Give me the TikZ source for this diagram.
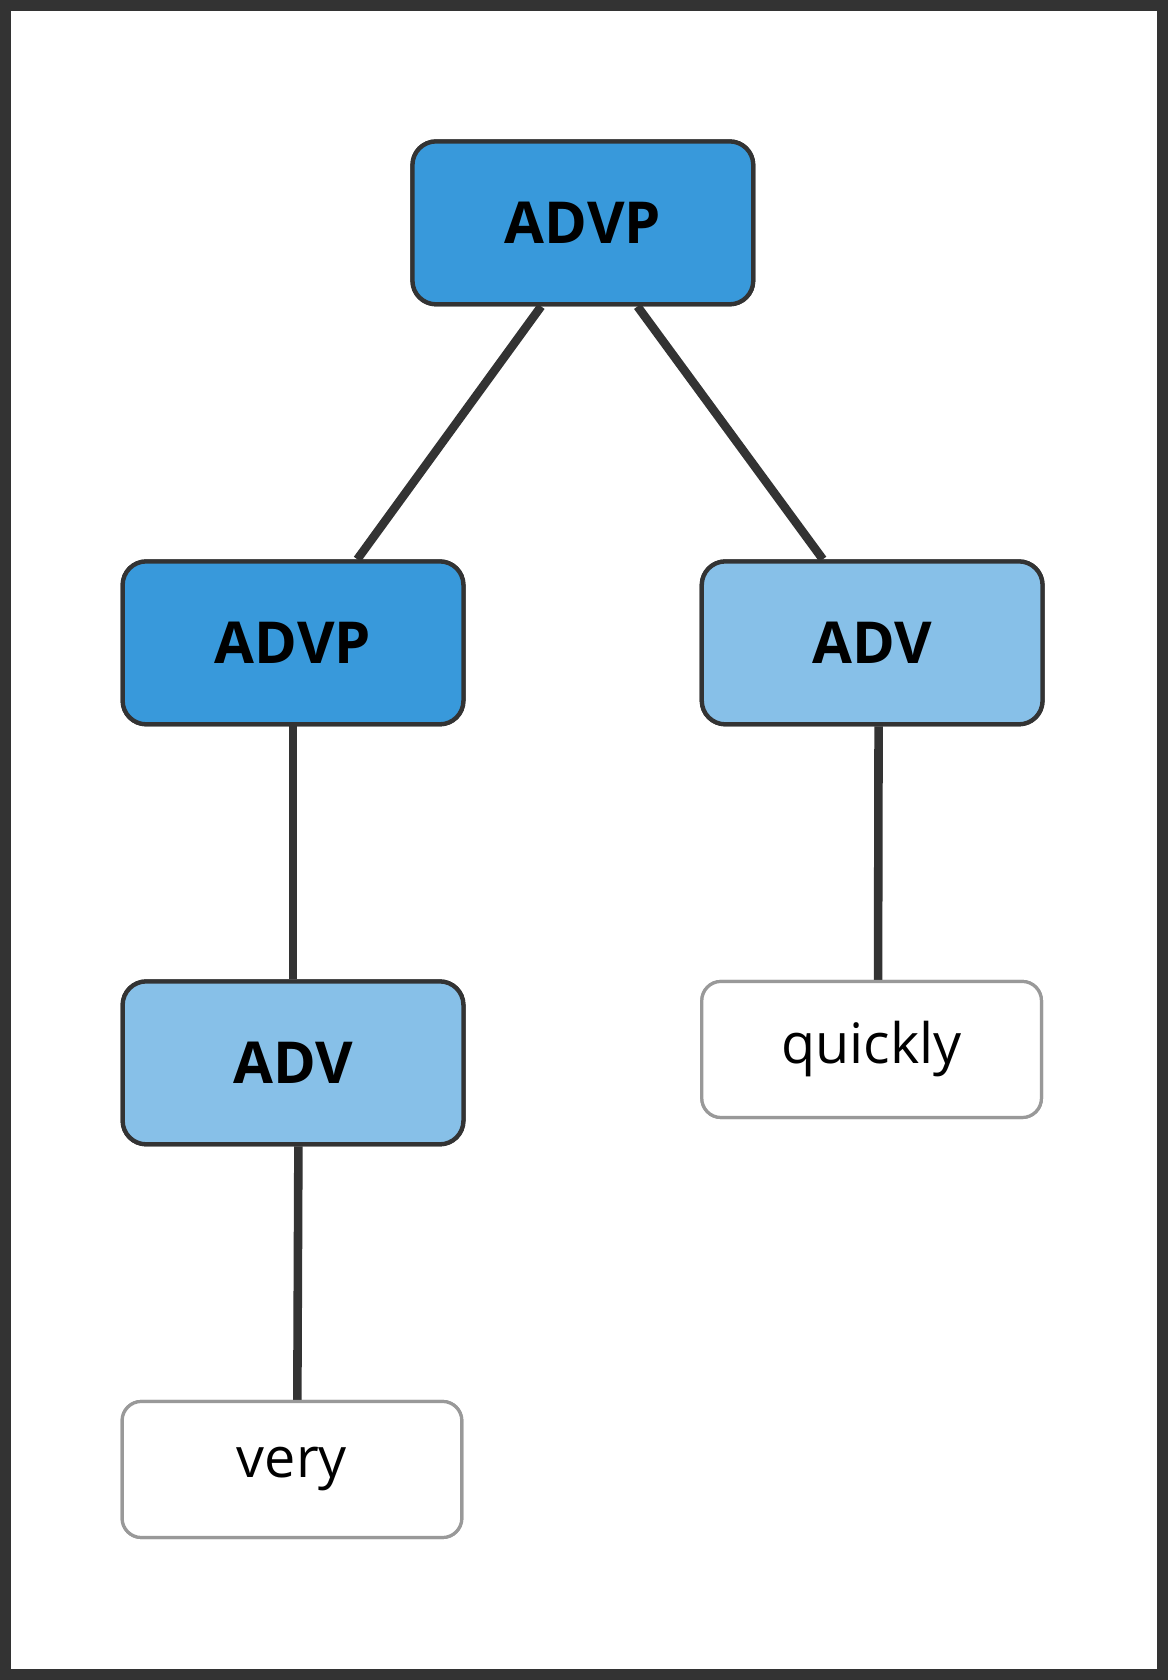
\documentclass[tikz,border=0pt]{standalone}
\usepackage{fontspec}
\setmainfont{Open Sans}
\definecolor{dark}{HTML}{333333}
\definecolor{phrase}{HTML}{3899DB}
\definecolor{word}{HTML}{87C0E8}
\definecolor{leafline}{HTML}{999999}
\tikzset{
    box/.style={rounded corners=22pt, minimum width=318pt, font=\fontsize{54}{60}\selectfont\bfseries},
    phr/.style={box, fill=phrase, draw=dark, line width=4pt, minimum height=152pt},
    wrd/.style={box, fill=word, draw=dark, line width=4pt, minimum height=152pt},
    leaf/.style={rounded corners=18pt, minimum width=317pt, minimum height=127pt, draw=leafline, line width=3pt, fill=white, font=\fontsize{52}{60}\selectfont},
    edge/.style={dark, line width=8pt}
}
\begin{document}
\begin{tikzpicture}[x=1pt, y=-1pt]
\fill[white](0,0)rectangle(1090,1568);
\draw[dark, line width=10pt](5,5)rectangle(1085,1563);
\useasboundingbox(0,0)rectangle(1090,1568);
\node[phr](root)at(544,208){ADVP};
\node[phr](advp)at(273.5,600){ADVP};
\node[wrd](advr)at(814,600){ADV};
\node[wrd](advl)at(273.5,992){ADV};
\node[leaf](quickly)at(813.5,979.5){quickly};
\node[leaf](very)at(272.5,1371.5){very};
\begin{scope}[on background layer/.style={}]
\draw[edge]([xshift=-39pt]root.south)--([xshift=60pt]advp.north);
\draw[edge]([xshift=51pt]root.south)--([xshift=-46pt]advr.north);
\draw[edge](advp.south)--(advl.north);
\draw[edge]([xshift=6pt]advr.south)--([xshift=6pt]quickly.north);
\draw[edge]([xshift=5pt]advl.south)--([xshift=5pt]very.north);
\end{scope}
\node[phr]at(root){ADVP};
\node[phr]at(advp){ADVP};
\node[wrd]at(advr){ADV};
\node[wrd]at(advl){ADV};
\node[leaf]at(quickly){quickly};
\node[leaf]at(very){very};
\end{tikzpicture}
\end{document}
